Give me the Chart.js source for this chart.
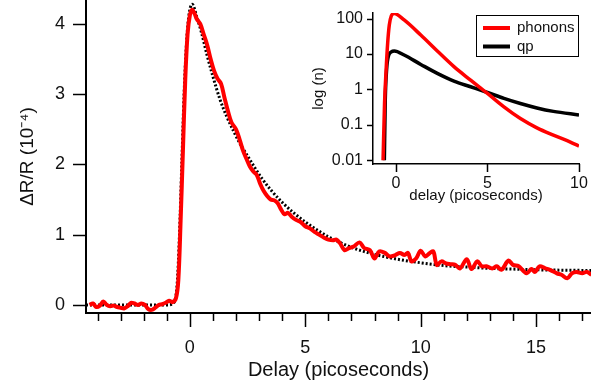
<!DOCTYPE html>
<html>
<head>
<script src="https://cdn.jsdelivr.net/npm/chart.js@4/dist/chart.umd.min.js"></script>
<style>
  body { margin: 0; background: #fff; }
  #wrap { position: relative; width: 591px; height: 389px; }
  #main { position: absolute; left: 0; top: 0; width: 591px; height: 389px; }
  #inset { position: absolute; left: 300px; top: 0; width: 291px; height: 210px; }
</style>
</head>
<body>
<div id="wrap">
  <div id="main"><canvas id="graph"></canvas></div>
  <div id="inset"><canvas id="insetGraph"></canvas></div>
</div>
<script>
// measured trace (delay in ps, dR/R in 1e-4)
const delay = [-4.35, -4.2, -4.05, -3.9, -3.75, -3.6, -3.45, -3.3, -3.15, -3.0, -2.85, -2.7, -2.55, -2.4, -2.25, -2.1, -1.95, -1.8, -1.65, -1.5, -1.35, -1.2, -1.05, -0.9, -0.75, -0.6,
  -0.5, -0.4, -0.3, -0.2, -0.1, 0.0, 0.1, 0.2, 0.3, 0.45, 0.6, 0.75, 0.9, 1.05, 1.2, 1.35, 1.5, 1.65, 1.8,
  2.0, 2.15, 2.3, 2.45, 2.6, 2.75, 2.9, 3.05, 3.2, 3.35, 3.5, 3.65, 3.8, 3.95, 4.1, 4.25, 4.4,
  4.6, 4.8, 5.0, 5.2, 5.4, 5.6, 5.8, 6.0, 6.2, 6.35, 6.5, 6.7, 6.9, 7.1, 7.35, 7.55, 7.8, 8.0, 8.2,
  8.45, 8.65, 8.9, 9.1, 9.3, 9.45, 9.6, 9.8, 10.0, 10.2, 10.4, 10.55, 10.7, 10.9, 11.1, 11.3, 11.5, 11.7, 12.0, 12.2,
  12.45, 12.65, 12.85, 13.1, 13.3, 13.5, 13.8, 14.0, 14.25, 14.4, 14.6, 14.8, 14.95, 15.15, 15.4, 15.6, 15.9, 16.1, 16.35, 16.55,
  16.75, 17.0, 17.2, 17.4];
const dR = [0.0, 0.02, -0.03, -0.01, 0.05, 0.0, -0.02, -0.01, -0.03, -0.04, -0.05, -0.02, 0.03, 0.02, 0.0, 0.02, 0.0, -0.06, -0.07, -0.04, 0.0, 0.01, 0.03, 0.06, 0.04, 0.1,
  0.35, 1.2, 2.2, 3.2, 3.85, 4.12, 4.2, 4.15, 4.07, 4.0, 3.85, 3.7, 3.5, 3.33, 3.22, 3.15, 2.95, 2.76, 2.6,
  2.5, 2.36, 2.2, 2.08, 1.97, 1.9, 1.85, 1.72, 1.62, 1.55, 1.5, 1.49, 1.45, 1.36, 1.29, 1.31, 1.26,
  1.21, 1.18, 1.12, 1.09, 1.04, 1.0, 0.96, 0.93, 0.92, 0.93, 0.88, 0.78, 0.81, 0.83, 0.89, 0.81, 0.78, 0.66, 0.76,
  0.74, 0.69, 0.71, 0.74, 0.71, 0.74, 0.62, 0.66, 0.77, 0.69, 0.74, 0.76, 0.57, 0.62, 0.59, 0.58, 0.57, 0.52, 0.65, 0.51,
  0.62, 0.55, 0.55, 0.52, 0.55, 0.5, 0.63, 0.57, 0.55, 0.5, 0.45, 0.51, 0.47, 0.55, 0.52, 0.5, 0.45, 0.43, 0.38, 0.45,
  0.47, 0.45, 0.47, 0.43];

// model fit (dotted)
const fitDelay = [-4.5, -1.0, -0.7, -0.55, -0.45, -0.35, -0.25, -0.15, -0.05, 0.1, 0.3, 0.5, 0.75, 1.0, 1.3, 1.6, 1.9, 2.2, 2.5, 2.8,
  3.1, 3.5, 4.0, 4.5, 5.0, 5.5, 6.0, 7.0, 8.0, 9.0, 10, 11, 12, 13, 14, 15, 16, 17.4];
const fitValues = [0, 0, 0.03, 0.3, 1.0, 2.0, 3.0, 3.7, 4.1, 4.28, 4.1, 3.88, 3.55, 3.25, 2.93, 2.68, 2.47, 2.28, 2.12, 1.96,
  1.81, 1.64, 1.46, 1.31, 1.18, 1.07, 0.97, 0.82, 0.72, 0.65, 0.60, 0.56, 0.54, 0.52, 0.51, 0.50, 0.495, 0.49];

// inset: populations
const phononDelay = [-0.7, -0.62, -0.54, -0.45, -0.36, -0.25, -0.09, 0.45, 1.36, 2.26, 3.17, 4.08, 5.0, 5.9, 6.8, 7.7, 8.6, 9.5, 10.0];
const phonons = [0.01, 0.4, 3.1, 20, 66, 120, 140, 92, 34.5, 12.2, 4.4, 1.83, 0.77, 0.32, 0.15, 0.082, 0.051, 0.033, 0.025];
const qpDelay = [-0.63, -0.58, -0.5, -0.4, -0.25, -0.09, 0.45, 1.36, 2.26, 3.17, 4.08, 5.0, 5.9, 6.8, 7.7, 8.6, 10.0];
const qp = [0.01, 0.5, 4, 9, 11.5, 12.2, 9.4, 5.1, 2.84, 1.72, 1.19, 0.82, 0.56, 0.40, 0.30, 0.24, 0.19];

const mainXTicks = [-4, -3, -2, -1, 0, 1, 2, 3, 4, 5, 6, 7, 8, 9, 10, 11, 12, 13, 14, 15, 16, 17];
const mainYTicks = [0, 1, 2, 3, 4];
const insetXTicks = [0, 5, 10];
const insetYTicks = [0.01, 0.1, 1, 10, 100];

const FONT = '"Liberation Sans", Arial, sans-serif';
const INK = '#111';

const xy = (xs, ys) => xs.map((x, i) => ({ x: x, y: ys[i] }));

// fixed axis box, no extra label overhang padding
const fixSize = (prop, size) => s => {
  s[prop] = size;
  s.paddingTop = s.paddingBottom = s.paddingLeft = s.paddingRight = 0;
};

// outward tick marks (Igor style: minor + major)
const tickMarks = {
  id: 'tickMarks',
  afterDraw(chart, args, opts) {
    const ctx = chart.ctx;
    const xs = chart.scales.x, ys = chart.scales.y;
    ctx.save();
    ctx.strokeStyle = '#000';
    ctx.lineWidth = opts.width;
    xs.ticks.forEach(t => {
      const px = Math.round(xs.getPixelForValue(t.value)) + 0.5;
      const len = (t.value % opts.major === 0) ? opts.xMajor : opts.xMinor;
      ctx.beginPath();
      ctx.moveTo(px, xs.top);
      ctx.lineTo(px, xs.top + len);
      ctx.stroke();
    });
    ys.ticks.forEach(t => {
      const py = Math.round(ys.getPixelForValue(t.value)) + 0.5;
      ctx.beginPath();
      ctx.moveTo(ys.right, py);
      ctx.lineTo(ys.right - opts.yLen, py);
      ctx.stroke();
    });
    ctx.restore();
  }
};

const boxLegend = {
  id: 'boxLegend',
  afterDraw(chart, args, opts) {
    const ctx = chart.ctx;
    const ca = chart.chartArea;
    const w = 103, h = 42;
    const x0 = ca.right - w, y0 = ca.top + 2;
    ctx.save();
    ctx.fillStyle = '#fff';
    ctx.fillRect(x0, y0, w, h);
    ctx.strokeStyle = '#000';
    ctx.lineWidth = 1;
    ctx.strokeRect(x0 + 0.5, y0 + 0.5, w - 1, h - 1);
    ctx.font = '15px ' + FONT;
    ctx.textBaseline = 'middle';
    chart.data.datasets.forEach((ds, i) => {
      const y = y0 + 13 + i * 18.5;
      ctx.strokeStyle = ds.borderColor;
      ctx.lineWidth = 4;
      ctx.beginPath();
      ctx.moveTo(x0 + 7, y);
      ctx.lineTo(x0 + 34, y);
      ctx.stroke();
      ctx.fillStyle = INK;
      ctx.fillText(ds.label, x0 + 41, y);
    });
    ctx.restore();
  }
};

new Chart(document.getElementById('graph'), {
  type: 'line',
  data: {
    datasets: [
      {
        label: 'data',
        data: xy(delay, dR),
        borderColor: '#ff0000',
        borderWidth: 4,
        pointRadius: 0,
        tension: 0.35,
        fill: false
      },
      {
        label: 'fit',
        data: xy(fitDelay, fitValues),
        borderColor: '#000',
        borderWidth: 3,
        borderDash: [2, 2],
        pointRadius: 0,
        cubicInterpolationMode: 'monotone',
        fill: false
      }
    ]
  },
  plugins: [tickMarks],
  options: {
    responsive: true,
    maintainAspectRatio: false,
    animation: false,
    layout: { padding: 0 },
    plugins: {
      legend: { display: false },
      tooltip: { enabled: false },
      tickMarks: { width: 1.5, major: 5, xMajor: 14, xMinor: 8, yLen: 13 }
    },
    scales: {
      x: {
        type: 'linear',
        min: -4.5,
        max: 17.38,
        afterBuildTicks: s => { s.ticks = mainXTicks.map(v => ({ value: v })); },
        afterFit: fixSize('height', 76),
        grid: { display: true, drawOnChartArea: false, drawTicks: false },
        border: { display: true, color: '#000', width: 2 },
        ticks: {
          autoSkip: false,
          maxRotation: 0,
          padding: 24,
          color: INK,
          font: { family: FONT, size: 18 },
          callback: v => (v % 5 === 0 ? String(v) : '')
        },
        title: {
          display: true,
          text: 'Delay (picoseconds)',
          color: INK,
          font: { family: FONT, size: 20 },
          padding: { top: 0, bottom: 7 }
        }
      },
      y: {
        type: 'linear',
        min: -0.115,
        max: 4.34,
        afterBuildTicks: s => { s.ticks = mainYTicks.map(v => ({ value: v })); },
        afterFit: fixSize('width', 86),
        grid: { display: true, drawOnChartArea: false, drawTicks: false },
        border: { display: true, color: '#000', width: 2 },
        ticks: {
          padding: 21,
          color: INK,
          font: { family: FONT, size: 18 },
          callback: v => String(v)
        },
        title: {
          display: true,
          text: '\u0394R/R (10\u207B\u2074)',
          color: INK,
          font: { family: FONT, size: 19 },
          padding: { top: 16, bottom: 0 }
        }
      }
    }
  }
});

new Chart(document.getElementById('insetGraph'), {
  type: 'line',
  data: {
    datasets: [
      {
        label: 'phonons',
        data: xy(phononDelay, phonons),
        borderColor: '#ff0000',
        borderWidth: 3.5,
        pointRadius: 0,
        cubicInterpolationMode: 'monotone',
        fill: false
      },
      {
        label: 'qp',
        data: xy(qpDelay, qp),
        borderColor: '#000',
        borderWidth: 3.5,
        pointRadius: 0,
        cubicInterpolationMode: 'monotone',
        fill: false
      }
    ]
  },
  plugins: [tickMarks, boxLegend],
  options: {
    responsive: true,
    maintainAspectRatio: false,
    animation: false,
    layout: { padding: { top: 13, right: 12, left: 0, bottom: 0 } },
    plugins: {
      legend: { display: false },
      tooltip: { enabled: false },
      tickMarks: { width: 1.5, major: 5, xMajor: 8, xMinor: 8, yLen: 6 }
    },
    scales: {
      x: {
        type: 'linear',
        min: -1.25,
        max: 10,
        afterBuildTicks: s => { s.ticks = insetXTicks.map(v => ({ value: v })); },
        afterFit: fixSize('height', 46),
        grid: { display: true, drawOnChartArea: false, drawTicks: false },
        border: { display: true, color: '#000', width: 1.5 },
        ticks: {
          autoSkip: false,
          maxRotation: 0,
          padding: 10,
          color: INK,
          font: { family: FONT, size: 16 },
          callback: v => String(v)
        },
        title: {
          display: true,
          text: 'delay (picoseconds)',
          color: INK,
          font: { family: FONT, size: 15 },
          padding: { top: 0, bottom: 5 }
        }
      },
      y: {
        type: 'logarithmic',
        min: 0.0078,
        max: 145,
        afterBuildTicks: s => { s.ticks = insetYTicks.map(v => ({ value: v })); },
        afterFit: fixSize('width', 73),
        grid: { display: true, drawOnChartArea: false, drawTicks: false },
        border: { display: true, color: '#000', width: 1.5 },
        ticks: {
          padding: 10,
          color: INK,
          font: { family: FONT, size: 16 },
          callback: v => String(v)
        },
        title: {
          display: true,
          text: 'log (n)',
          color: INK,
          font: { family: FONT, size: 15 },
          padding: { top: 10, bottom: 0 }
        }
      }
    }
  }
});
</script>
</body>
</html>
